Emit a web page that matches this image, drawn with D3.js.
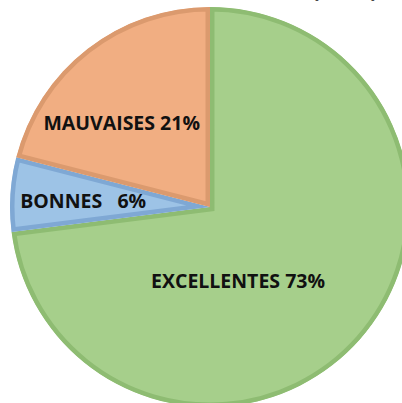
<!DOCTYPE html>
<html>
<head>
<meta charset="utf-8">
<script src="https://cdn.jsdelivr.net/npm/d3@7"></script>
<style>
  body { margin: 0; background: #fff; }
  svg { display: block; }
  text { font-family: "Open Sans", Lato, sans-serif; font-weight: bold; white-space: pre; }
</style>
</head>
<body>
<div id="chart"></div>
<script>
// slices, in clockwise order from 12 o'clock
const categories = ['EXCELLENTES', 'BONNES', 'MAUVAISES']
const values = [73, 6, 21]
const labels = ['EXCELLENTES 73%', 'BONNES   6%', 'MAUVAISES 21%']

const fills = ['#a6cf8b', '#9dc3e6', '#f1ae82']
const strokes = ['#8ebc72', '#7fa8d4', '#db9a6e']

// nudges from the half-radius centroid, to sit where the original put them
const labelNudge = [[-47, 7], [-27, 0], [-27, -6]]

const width = 402
const height = 403
const cx = 210
const cy = 207
const radius = 200

const svg = d3.select('#chart')
    .append('svg')
        .attr('width', width)
        .attr('height', height)

// title is cut off by the frame, only the bottom of the brackets shows
svg.append('text')
    .attr('x', 378)
    .attr('y', -3)
    .attr('text-anchor', 'end')
    .attr('font-size', 22)
    .attr('fill', '#111')
    .text('(         )')

const g = svg.append('g')
    .attr('transform', 'translate(' + cx + ',' + cy + ')')

const pie = d3.pie().sort(null).value(d => d.value)
const arc = d3.arc().innerRadius(0).outerRadius(radius)
const labelArc = d3.arc().innerRadius(0).outerRadius(radius)

const slices = pie(categories.map((c, i) => ({ name: c, value: values[i], index: i })))

const defs = svg.append('defs')
defs.selectAll('clipPath')
    .data(slices)
    .join('clipPath')
        .attr('id', (d, i) => 'clip-' + i)
    .append('path')
        .attr('d', arc)

// stroke clipped to the slice so each border sits inside its own slice
g.selectAll('path.slice')
    .data(slices)
    .join('path')
        .attr('class', 'slice')
        .attr('d', arc)
        .attr('fill', d => fills[d.index])
        .attr('stroke', d => strokes[d.index])
        .attr('stroke-width', 9)
        .attr('clip-path', (d, i) => 'url(#clip-' + i + ')')

g.selectAll('text.label')
    .data(slices)
    .join('text')
        .attr('class', 'label')
        .attr('x', d => labelArc.centroid(d)[0] + labelNudge[d.index][0])
        .attr('y', d => labelArc.centroid(d)[1] + labelNudge[d.index][1])
        .attr('text-anchor', 'middle')
        .attr('dominant-baseline', 'central')
        .attr('font-size', 19.5)
        .attr('fill', '#111')
        .text(d => labels[d.index])
</script>
</body>
</html>
